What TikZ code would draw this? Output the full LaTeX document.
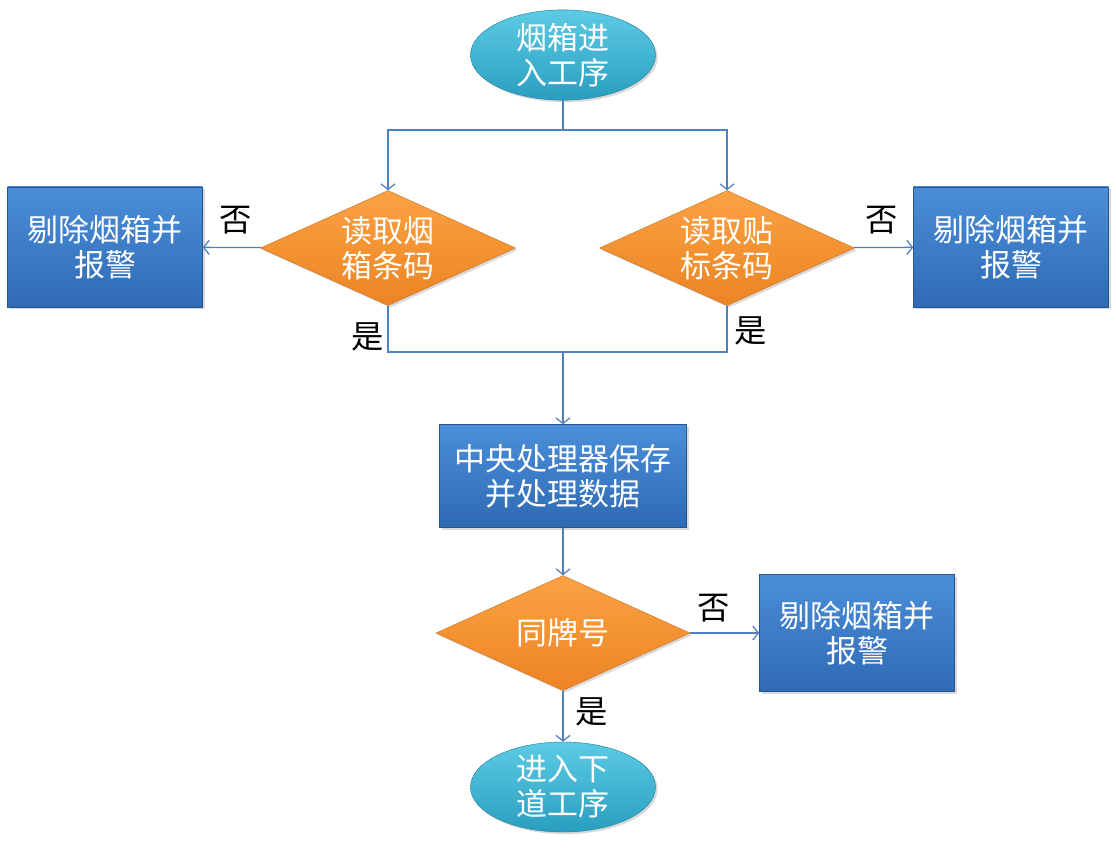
\documentclass[tikz,border=0pt]{standalone}
\usepackage{fontspec}
\setmainfont{Noto Sans CJK SC}
\usepackage{tikz}
\usetikzlibrary{calc,positioning,arrows.meta,shapes.geometric,shadows}

\definecolor{linec}{HTML}{4F81BD}
\definecolor{termtop}{HTML}{5CCBE4}
\definecolor{termbot}{HTML}{2A9EC0}
\definecolor{dectop}{HTML}{FBA243}
\definecolor{decbot}{HTML}{EC8424}
\definecolor{boxtop}{HTML}{4B8ED8}
\definecolor{boxbot}{HTML}{2F6AB4}

\begin{document}
\begin{tikzpicture}[x=0.025cm, y=-0.025cm,
  txt/.style={font=\fontsize{22pt}{25pt}\selectfont, text=white, align=center, inner sep=0pt},
  shade/.style={drop shadow={shadow xshift=1.5pt, shadow yshift=-1.5pt, opacity=0.3}},
  term/.style={txt, shade, ellipse, top color=termtop, bottom color=termbot, draw=termbot!80!black, line width=0.3pt, minimum width=4.625cm, minimum height=2.25cm},
  decision/.style={txt, shade, diamond, aspect=2.2, top color=dectop, bottom color=decbot, draw=decbot!85!black, line width=0.3pt, minimum width=6.375cm, minimum height=2.875cm},
  proc/.style={txt, shade, rectangle, top color=boxtop, bottom color=boxbot, draw=boxbot!80!black, line width=0.3pt, minimum width=4.875cm, minimum height=3cm},
  lbl/.style={font=\fontsize{23pt}{25pt}\selectfont, inner sep=0pt},
  line/.style={draw=linec, line width=0.9pt},
  arr/.style={line, -{Straight Barb[length=4pt,width=10pt]}}
]
\useasboundingbox (0,0) rectangle (1116,850);

% nodes
\node[term] (start) at (563,55) {烟箱进\\入工序};
\node[decision] (readbox) at (388,248) {读取烟\\箱条码};
\node[decision] (readlabel) at (727,248) {读取贴\\标条码};
\node[proc] (rejectl) at (105,247) {剔除烟箱并\\报警};
\node[proc] (rejectr) at (1011,247) {剔除烟箱并\\报警};
\node[proc, minimum width=6.175cm, minimum height=2.575cm] (cpu) at (563,476) {中央处理器保存\\并处理数据};
\node[decision, minimum width=6.35cm] (brand) at (563,633) {同牌号};
\node[proc, minimum height=2.925cm] (rejectb) at (857,633) {剔除烟箱并\\报警};
\node[term] (next) at (563,787) {进入下\\道工序};

\coordinate (split) at (563,130);
\coordinate (join) at (563,352);

% connectors
\draw[line] (start) -- (split);
\draw[arr] (split) -| (readbox);
\draw[arr] (split) -| (readlabel);
\draw[arr] (readbox) -- (rejectl);
\draw[arr] (readlabel) -- (rejectr);
\draw[line] (readbox.south) |- (join);
\draw[line] (readlabel.south) |- (join);
\draw[arr] (join) -- (cpu);
\draw[arr] (cpu) -- (brand);
\draw[arr] (brand) -- (rejectb);
\draw[arr] (brand) -- (next);

% labels
\node[lbl] (no1) at (236,220) {否};
\node[lbl] (no2) at (882,220) {否};
\node[lbl] (yes1) at (368,337) {是};
\node[lbl] (yes2) at (751,331) {是};
\node[lbl] (no3) at (714,608) {否};
\node[lbl] (yes3) at (592,712) {是};

\end{tikzpicture}
\end{document}
